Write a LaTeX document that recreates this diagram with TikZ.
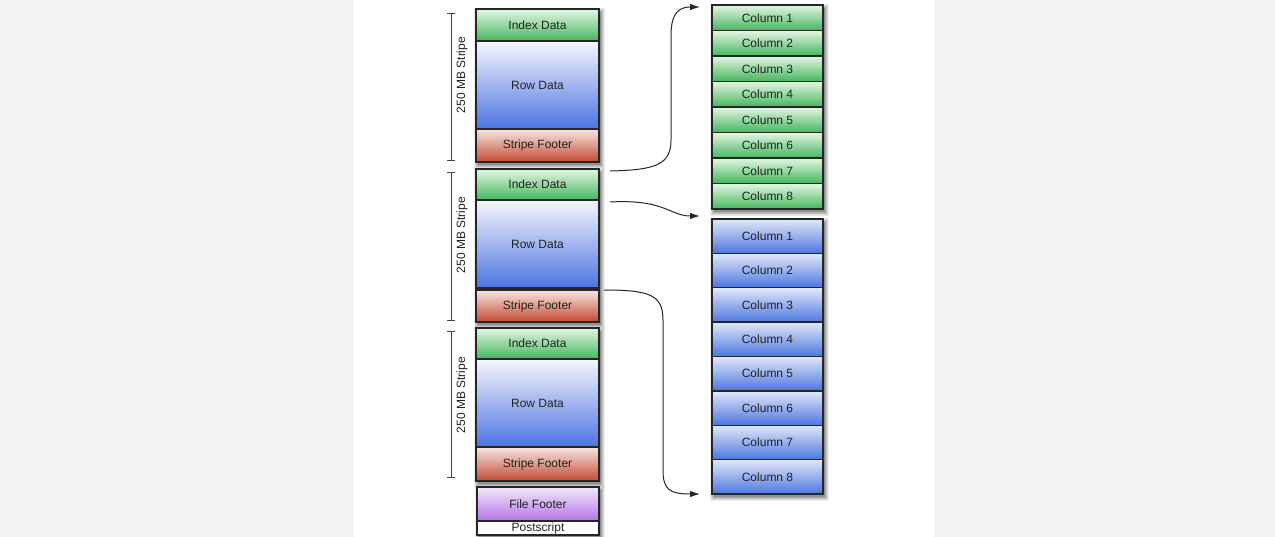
\documentclass[tikz,border=0pt]{standalone}
\usepackage{fontspec}
\setmainfont{Liberation Sans}
\usetikzlibrary{arrows.meta}
\definecolor{gtop}{HTML}{E4F6E4}\definecolor{gbot}{HTML}{44B65C}
\definecolor{btop}{HTML}{F6F8FE}\definecolor{bbot}{HTML}{4A74E2}
\definecolor{bctop}{HTML}{E2E8FA}\definecolor{bcbot}{HTML}{4C76E0}
\definecolor{rtop}{HTML}{F8E6E2}\definecolor{rbot}{HTML}{C24A32}
\definecolor{ptop}{HTML}{F4E8FC}\definecolor{pbot}{HTML}{B274E4}
\definecolor{pagebg}{HTML}{F4F4F4}
\definecolor{txt}{HTML}{222222}
\tikzset{
  cell/.style={draw=black!85, line width=1.3pt, inner sep=0pt, outer sep=0pt,
    font=\fontsize{12}{14}\selectfont, text=txt},
  lcell/.style={cell, minimum width=123pt},
  rcell/.style={cell, minimum width=111pt},
  idxcell/.style={lcell, top color=gtop, bottom color=gbot},
  rowcell/.style={lcell, top color=btop, bottom color=bbot},
  sfcell/.style={lcell, top color=rtop, bottom color=rbot},
  ffcell/.style={lcell, top color=ptop, bottom color=pbot},
  pscell/.style={lcell, fill=white},
  gcol/.style={rcell, top color=gtop, bottom color=gbot, minimum height=25.5pt},
  bcol/.style={rcell, top color=bctop, bottom color=bcbot, minimum height=34.375pt},
  bracket/.style={draw=black!75, line width=1pt, {Bar[width=8pt]}-{Bar[width=8pt]}},
  blabel/.style={rotate=90, font=\fontsize{12}{14}\selectfont, text=txt},
  conn/.style={draw=black!85, line width=1pt, -{Latex[length=10pt,width=6.5pt]}}
}
\newcommand\mysoftshadow[4]{%
  \foreach \e/\o in {4/0.07,3/0.08,2/0.10,1/0.12,0/0.15}{%
    \fill[black, opacity=\o] ({#1+1.5-\e},{#2+3-\e}) rectangle ({#3+1.5+\e},{#4+3+\e});
  }%
}
\begin{document}
\begin{tikzpicture}[x=1pt,y=-1pt]
\useasboundingbox (0,0) rectangle (1275,537);
\fill[pagebg] (0,0) rectangle (1275,537);
\fill[white] (354,0) rectangle (934,537);

% shadows of groups
\mysoftshadow{476}{9}{599}{162}
\mysoftshadow{476}{169}{599}{322}
\mysoftshadow{476}{328}{599}{481}
\mysoftshadow{477}{487}{599}{535}
\mysoftshadow{712}{5}{823}{209}
\mysoftshadow{712}{219}{823}{494}

% stripe 1
\node[idxcell, minimum height=32pt] (idx1) at (537.5,25) {Index Data};
\node[rowcell, minimum height=88pt] (row1) at (537.5,85) {Row Data};
\node[sfcell, minimum height=33pt] (sf1) at (537.5,145.5) {Stripe Footer};
% stripe 2
\node[idxcell, minimum height=31pt] (idx2) at (537.5,184.5) {Index Data};
\node[rowcell, minimum height=88pt] (row2) at (537.5,244) {Row Data};
\node[sfcell, minimum height=32pt] (sf2) at (537.5,306) {Stripe Footer};
% stripe 3
\node[idxcell, minimum height=31pt] (idx3) at (537.5,343.5) {Index Data};
\node[rowcell, minimum height=88pt] (row3) at (537.5,403) {Row Data};
\node[sfcell, minimum height=34pt] (sf3) at (537.5,464) {Stripe Footer};
% file footer
\node[ffcell, minimum width=122pt, minimum height=34pt] (ff) at (538,504) {File Footer};
\node[pscell, minimum width=122pt, minimum height=14pt] (ps) at (538,528) {Postscript};

% brackets
\coordinate (s1t) at (451,13); \coordinate (s1b) at (451,161);
\coordinate (s2t) at (451,172); \coordinate (s2b) at (451,321);
\coordinate (s3t) at (451,331); \coordinate (s3b) at (451,478);
\draw[bracket] (s1t) -- (s1b);
\draw[bracket] (s2t) -- (s2b);
\draw[bracket] (s3t) -- (s3b);
\node[blabel] (l1) at (462,75) {250 MB Stripe};
\node[blabel] (l2) at (462,235) {250 MB Stripe};
\node[blabel] (l3) at (462,395) {250 MB Stripe};

% right columns
\foreach \i in {1,...,8}
  \node[gcol] (g\i) at (767.5,{5+12.75+25.5*(\i-1)}) {Column \i};
\foreach \i in {1,...,8}
  \node[bcol] (b\i) at (767.5,{219+17.1875+34.375*(\i-1)}) {Column \i};

% connectors
\coordinate (a1s) at (610,171); \coordinate (a1e) at (700,7);
\coordinate (a2s) at (610,202); \coordinate (a2e) at (700,216);
\coordinate (a3s) at (604,290); \coordinate (a3e) at (700,494);
\draw[conn] (a1s) .. controls (655,170) and (671,165) .. (671,140) -- (671,35) .. controls (671,12) and (680,7) .. (a1e);
\draw[conn] (a2s) .. controls (665,199) and (670,216) .. (a2e);
\draw[conn] (a3s) .. controls (650,290) and (663,295) .. (663,320) -- (663,470) .. controls (663,490) and (670,494) .. (a3e);
\end{tikzpicture}
\end{document}
